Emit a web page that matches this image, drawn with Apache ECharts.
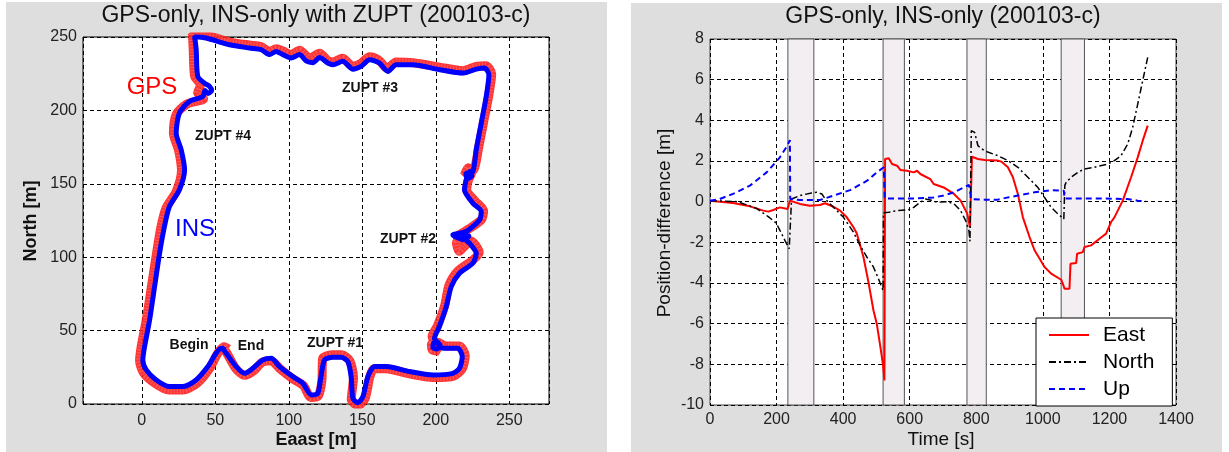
<!DOCTYPE html>
<html>
<head>
<meta charset="utf-8">
<title>GPS-only, INS-only (200103-c)</title>
<script src="https://cdn.jsdelivr.net/npm/echarts@6/dist/echarts.min.js"></script>
<style>
html, body { margin: 0; padding: 0; background: #fff; }
#chart { width: 1229px; height: 452px; }
</style>
</head>
<body>
<div id="chart"></div>
<script>
// left panel: trajectory, east / north in metres
var insEast = [54,57.4,64.2,69.9,75.5,82.3,88,93.7,102.7,109.5,115.2,119.7,121.5,124.3,130,135.6,140.2,142.4,143.6,147,150.4,153.8,158.3,166.3,182.1,198,211.6,216.1,218,215,207.1,203,201.5,198.5,198,201,203,199.1,202.4,207.1,210.5,216.1,225.2,227.5,223,220.7,222.5,219.5,219,211.6,220.7,229.7,230.9,225.2,219.5,220.5,221.8,223.5,224.5,221.5,220.5,225.2,227.5,230.9,234.3,236.1,233.1,227.6,218.5,202.7,184.4,173,167.4,161.7,154.9,149.2,143.6,136.8,130,126.5,121,116.4,112,107.3,101.6,95.9,91.4,86.9,81.2,73.3,59.7,43.8,35.9,37,38.1,42.6,46,47.5,45,43,41.5,32.4,25.6,23.4,26.8,29.1,25.6,18.8,15.4,12.1,8.7,5.3,1.9,0.7,3,9.8,18.8,27.9,36.9,44.9,50.5,54,57];
var insNorth = [39,34.6,25.5,20.9,24.3,30,31.1,25.5,18.7,14.2,6.2,7.3,16,30,31.8,31.8,28.9,18.7,3.9,0.9,5,18.7,25.5,25.5,22.1,19.8,20.9,24.3,32.3,37.9,37.9,38.5,41.5,41.5,38.5,37.5,40,44.7,52.7,66.4,80,89.1,95.9,102.7,109.5,111.8,114.5,115,112,115.2,117.5,125.4,131.1,136.8,145.9,152,156.2,158.5,155.5,153.5,157,158.4,173.2,191.3,209.5,224.3,228.8,228.1,225.4,227.7,231.1,231.1,226.5,232.2,234.5,230,228.1,233.4,231.1,232.3,236,232.5,233.5,238,235.7,238,240.2,238,241.4,242.5,244.7,249.3,250.4,241.3,223.1,218.6,216.5,213.5,211.5,213.5,209.5,206.1,198.2,184.5,173.2,159.5,145.9,134.5,120.9,102.7,80,57.2,39.1,30,23.2,16.4,11.9,11.9,16.4,25.5,34.6,38,37];
var gpsEast = [53,57,64,70,76,82,88,94,103,110,115,120,122.5,123,130,136,141.5,144,142.5,147,152,155,158,166,182,198,212,218,220,216,207,201,197,197.5,202,197.5,201,206,209,215,224.5,229.5,224,219,216,214,218,212.5,222,231,232.5,226.5,221,222,224.5,222,219.5,226,229,232.5,236,238,234,227.5,218.5,202.5,184.5,173,167,161.5,155,149,143.5,136.5,130,126.5,121,114,107.5,101.5,96,91.5,87,81,73,60,44,34.5,35,36,40,38,42,40.5,31,23.5,21.5,25,27,23.5,16.5,13,10,6.5,3,-0.5,-1.5,1,8.5,18.5,28,38,46,52,56,59];
var gpsNorth = [40,36,24,19.5,22.5,28.5,29.5,24,17,12.5,4.5,5.5,16,31,33.5,33.5,29.5,18,3,-1,4,18,24,24,20.5,18,19,24,33,39.5,39.5,42,40.5,37,36,46,53,67,81,90.5,97.5,103,111,107,104,110,113,113,119,125.5,131.5,138.5,146,152,158,161,156,160,174,192,210,225,230.5,230,227,229.5,232.5,233,228.5,234,236.5,232,230,235.5,233,234,239,235.5,241,238,240.5,242,240,243.5,244.5,246.5,251,252,241,223,217.5,212,208,207,204.5,197.5,184.5,173,159,145,133.5,120.5,102.5,79.5,57,38.5,29.5,21.5,14.5,9.5,9.5,14.5,24,35,39,37.5];

// right panel: position difference [m] against time [s]
var eastT = [0,69,120,160,175,190,210,233,236,240,270,300,330,346,371,391,411,431,441,461,476,491,501,512,520,524,526,537,547,562,572,592,612,622,632,662,672,702,733,753,773,781,784,787,805,825,865,875,895,910,925,940,960,975,990,1005,1025,1055,1060,1065,1080,1083,1100,1103,1120,1125,1145,1170,1190,1205,1215,1240,1265,1285,1300,1315];
var eastY = [0.05,-0.07,-0.23,-0.44,-0.49,-0.41,-0.28,-0.36,-0.36,0.05,-0.11,-0.2,-0.16,-0.08,-0.25,-0.44,-0.77,-1.26,-1.57,-2.72,-3.95,-5.34,-6,-7.15,-8.05,-8.79,2.1,2.13,1.85,1.77,1.56,1.52,1.44,1.52,1.36,1.11,0.87,0.7,0.38,0.05,-0.6,-1.26,-1.3,2.21,2.1,2.05,2.02,1.97,1.69,1.2,0.38,-0.77,-1.74,-2.39,-2.8,-3.21,-3.54,-3.84,-4.03,-4.28,-4.28,-3.05,-3.02,-2.56,-2.48,-2.23,-2.15,-1.82,-1.57,-1.0,-0.77,0.05,1.2,2.18,3,3.74];
var northT = [0,82,140,175,199,210,225,238,240,245,270,305,321,336,346,361,381,401,431,451,471,491,506,520,521,537,562,597,612,632,647,662,682,713,733,753,768,778,781,785,795,805,825,865,895,925,955,985,1005,1025,1045,1063,1066,1070,1085,1105,1125,1155,1195,1215,1235,1255,1270,1285,1300,1315];
var northY = [0.05,0,-0.33,-0.74,-1.05,-1.41,-1.9,-2.31,-2.31,0.13,0.3,0.43,0.46,0.38,0.13,-0.11,-0.44,-0.77,-1.5,-2.15,-2.72,-3.21,-3.79,-4.36,-0.55,-0.52,-0.44,-0.39,-0.28,-0.03,0.13,0.08,-0.03,0,-0.11,-0.44,-0.93,-1.43,-1.95,3.49,3.41,2.75,2.5,2.26,2.02,1.69,1.2,0.7,0.21,-0.28,-0.6,-0.85,0.8,0.95,1.2,1.44,1.61,1.69,1.85,2.02,2.26,2.84,3.66,4.8,5.95,7.1];
var upT = [0,29,69,120,170,210,232,240,241,270,330,371,421,472,501,522,525,572,622,672,702,733,763,778,785,825,865,895,925,975,1025,1063,1065,1125,1175,1255,1285,1310];
var upY = [0.05,0.13,0.38,0.79,1.44,2.18,2.75,3.03,0.13,0.08,0.08,0.3,0.57,1.03,1.44,1.69,0.16,0.16,0.16,0.21,0.3,0.46,0.7,0.82,0.13,0.1,0.1,0.21,0.3,0.46,0.57,0.54,0.16,0.16,0.16,0.13,0.05,0.02];

// ZUPT intervals [s]
var zuptStart = [234, 520, 772, 1055];
var zuptEnd = [312, 584, 830, 1125];

var legendNames = ['East', 'North', 'Up'];

var FONT = '"Liberation Sans", Arial, Helvetica, sans-serif';

function pairs(xs, ys) {
    return xs.map(function (x, i) { return [x, ys[i]]; });
}

function txt(str, x, y, size, weight, color, rot) {
    return {
        type: 'text', x: x, y: y, z: 100, rotation: rot || 0,
        style: {
            text: str, fill: color, font: weight + ' ' + size + 'px ' + FONT,
            align: 'center', verticalAlign: 'middle',
            textAlign: 'center', textVerticalAlign: 'middle'
        }
    };
}

var gridLine = { show: true, lineStyle: { color: '#000', type: [4, 3], width: 1 } };
var tickLab = { color: '#222', fontSize: 16, fontFamily: FONT };

var chart = echarts.init(document.getElementById('chart'));

var option = {
    animation: false,
    backgroundColor: '#fff',
    graphic: [
        { type: 'rect', z: -100, shape: { x: 6, y: 2, width: 601, height: 450 }, style: { fill: '#dedede' } },
        { type: 'rect', z: -100, shape: { x: 631, y: 3, width: 591, height: 449 }, style: { fill: '#dedede' } },
        txt('GPS-only, INS-only with ZUPT (200103-c)', 316, 16, 23, 'normal', '#111'),
        txt('GPS-only, INS-only (200103-c)', 943, 17, 23, 'normal', '#111'),
        txt('North [m]', 31, 221, 18, 'bold', '#111', Math.PI / 2),
        txt('Eaast [m]', 316, 440, 18, 'bold', '#111'),
        txt('Position-difference [m]', 665, 223, 19, 'normal', '#111', Math.PI / 2),
        txt('Time [s]', 941, 440, 19, 'normal', '#111'),
        txt('GPS', 152, 87, 24, 'normal', '#ff0000'),
        txt('INS', 195, 229, 24, 'normal', '#0000ff'),
        txt('ZUPT #1', 335, 343, 14, 'bold', '#111'),
        txt('ZUPT #2', 408, 239, 14, 'bold', '#111'),
        txt('ZUPT #3', 370, 88, 14, 'bold', '#111'),
        txt('ZUPT #4', 223, 136, 14, 'bold', '#111'),
        txt('Begin', 189, 345, 14, 'bold', '#111'),
        txt('End', 251, 346, 14, 'bold', '#111')
    ],
    grid: [
        { left: 83, top: 37, width: 466, height: 367, show: true, backgroundColor: '#fff', borderColor: '#000', borderWidth: 1 },
        { left: 710, top: 39, width: 466, height: 366, show: true, backgroundColor: '#fff', borderColor: '#444', borderWidth: 1 }
    ],
    xAxis: [
        {
            type: 'value', gridIndex: 0, min: -40, max: 277, splitNumber: 5,
            axisLine: { show: false }, axisTick: { show: false },
            axisLabel: Object.assign({ margin: 9, formatter: function (v) { return v % 50 === 0 ? String(v) : ''; } }, tickLab),
            splitLine: gridLine
        },
        {
            type: 'value', gridIndex: 1, min: 0, max: 1400, interval: 200,
            axisLine: { show: false }, axisTick: { show: false },
            axisLabel: Object.assign({ margin: 7, formatter: function (v) { return String(v); } }, tickLab),
            splitLine: gridLine
        }
    ],
    yAxis: [
        {
            type: 'value', gridIndex: 0, min: 0, max: 250, interval: 50,
            axisLine: { show: false }, axisTick: { show: false },
            axisLabel: Object.assign({ margin: 6 }, tickLab),
            splitLine: gridLine
        },
        {
            type: 'value', gridIndex: 1, min: -10, max: 8, interval: 2,
            axisLine: { show: false }, axisTick: { show: false },
            axisLabel: Object.assign({ margin: 6 }, tickLab),
            splitLine: gridLine
        }
    ],
    legend: {
        orient: 'vertical', left: 1036, top: 318,
        data: legendNames, selectedMode: false,
        itemWidth: 40, itemHeight: 14, itemGap: 3,
        itemStyle: { opacity: 0 },
        textStyle: { fontSize: 21, fontFamily: FONT, color: '#000', lineHeight: 24, padding: [0, 0, 0, 9] },
        backgroundColor: '#fff', borderColor: '#000', borderWidth: 1, borderRadius: 0,
        padding: [5, 18, 5, 12]
    },
    series: [
        {
            name: 'GPS', type: 'line', xAxisIndex: 0, yAxisIndex: 0,
            data: pairs(gpsEast, gpsNorth), symbol: 'none', smooth: 0.25,
            lineStyle: { color: '#ff1f1f', width: 9, opacity: 0.9 }
        },
        {
            name: 'GPS texture', type: 'line', xAxisIndex: 0, yAxisIndex: 0,
            data: pairs(gpsEast, gpsNorth), symbol: 'none', smooth: 0.25,
            lineStyle: { color: '#ffffff', width: 7, opacity: 0.2, type: [1, 2] }
        },
        {
            name: 'INS', type: 'line', xAxisIndex: 0, yAxisIndex: 0,
            data: pairs(insEast, insNorth), symbol: 'none', smooth: 0.25,
            lineStyle: { color: '#0000ff', width: 5 }
        },
        {
            name: 'East', type: 'line', xAxisIndex: 1, yAxisIndex: 1,
            data: pairs(eastT, eastY), symbol: 'none',
            itemStyle: { color: '#ff0000' },
            lineStyle: { color: '#ff0000', width: 2 },
            markArea: {
                silent: true,
                itemStyle: { color: '#f2eef2', borderColor: '#555', borderWidth: 1 },
                data: zuptStart.map(function (s, i) { return [{ xAxis: s }, { xAxis: zuptEnd[i] }]; })
            }
        },
        {
            name: 'North', type: 'line', xAxisIndex: 1, yAxisIndex: 1,
            data: pairs(northT, northY), symbol: 'none',
            itemStyle: { color: '#000' },
            lineStyle: { color: '#000', width: 1.5, type: [7, 3, 2, 3] }
        },
        {
            name: 'Up', type: 'line', xAxisIndex: 1, yAxisIndex: 1,
            data: pairs(upT, upY), symbol: 'none',
            itemStyle: { color: '#0000ff' },
            lineStyle: { color: '#0000ff', width: 2, type: [6, 4] }
        }
    ]
};

chart.setOption(option);
</script>
</body>
</html>
